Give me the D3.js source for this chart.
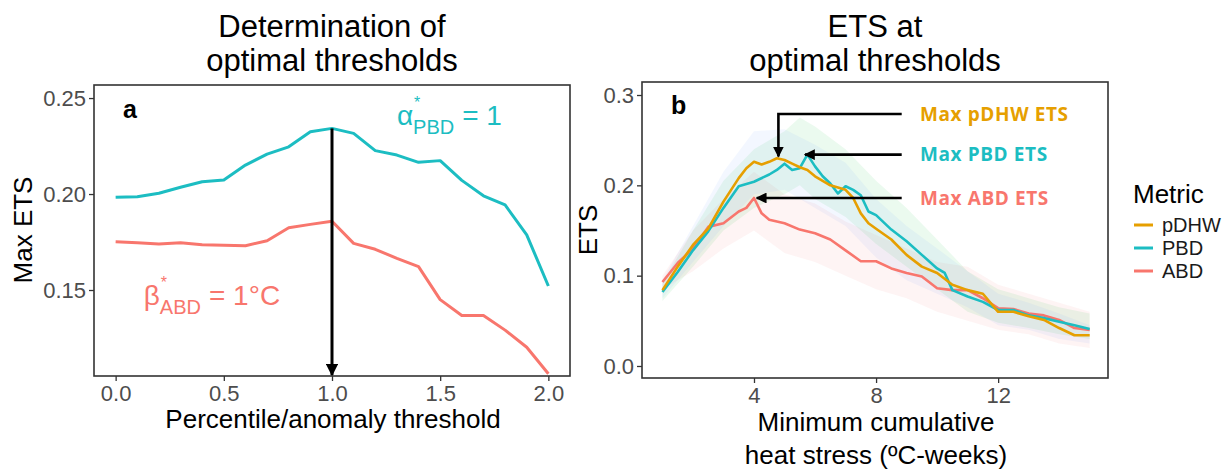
<!DOCTYPE html>
<html>
<head>
<meta charset="utf-8">
<script src="https://cdn.jsdelivr.net/npm/d3@7"></script>
<style>
  body { margin: 0; background: #fff; }
  svg text { font-family: "Liberation Sans", Arial, sans-serif; }
</style>
</head>
<body>
<svg id="chart" width="1230" height="475"></svg>
<script>
// ---- panel a: max ETS by threshold ----
const thresholds = [0, 0.1, 0.2, 0.3, 0.4, 0.5, 0.6, 0.7, 0.8, 0.9, 1.0, 1.1, 1.2, 1.3, 1.4, 1.5, 1.6, 1.7, 1.8, 1.9, 2.0];
const maxEtsPBD = [0.1983, 0.1986, 0.2004, 0.2035, 0.2064, 0.2073, 0.2151, 0.2208, 0.2246, 0.2324, 0.2342, 0.2316, 0.2226, 0.2203, 0.2165, 0.2174, 0.2071, 0.1991, 0.1943, 0.1787, 0.1521];
const maxEtsABD = [0.1752, 0.1746, 0.1740, 0.1746, 0.1736, 0.1733, 0.1731, 0.1757, 0.1824, 0.1842, 0.1858, 0.1743, 0.1712, 0.1665, 0.1622, 0.1450, 0.1367, 0.1367, 0.1291, 0.1202, 0.1064];
const ticksA_x = [0, 0.5, 1, 1.5, 2];
const ticksA_y = [0.15, 0.20, 0.25];

// ---- panel b: ETS vs minimum cumulative heat stress ----
const metrics = ["pDHW", "PBD", "ABD"];
const etsPDHW = [[1,0.084],[1.5,0.110],[2,0.134],[2.5,0.152],[3,0.182],[3.25,0.195],[3.5,0.208],[3.75,0.219],[4,0.226],[4.25,0.223],[4.5,0.226],[4.75,0.230],[5,0.228],[5.25,0.224],[5.5,0.220],[5.75,0.217],[6,0.210],[6.5,0.200],[7,0.195],[7.25,0.186],[7.5,0.169],[7.75,0.158],[8,0.152],[8.5,0.140],[9,0.123],[9.5,0.110],[10,0.103],[10.5,0.090],[11,0.084],[11.5,0.080],[12,0.060],[12.5,0.060],[13,0.055],[13.5,0.051],[14,0.042],[14.5,0.034],[15,0.034]];
const etsPBD = [[1,0.082],[1.5,0.104],[2,0.128],[2.5,0.149],[3,0.175],[3.5,0.199],[4,0.204],[4.5,0.212],[4.75,0.217],[5,0.224],[5.25,0.217],[5.5,0.219],[5.75,0.234],[6,0.221],[6.25,0.210],[6.5,0.202],[6.75,0.191],[7,0.199],[7.25,0.195],[7.5,0.189],[7.75,0.171],[8,0.167],[8.5,0.151],[9,0.138],[9.5,0.123],[10,0.108],[10.25,0.103],[10.5,0.084],[11,0.077],[11.5,0.071],[12,0.062],[12.5,0.062],[13,0.056],[13.5,0.053],[14,0.049],[14.5,0.045],[15,0.041]];
const etsABD = [[1,0.093],[1.5,0.114],[2,0.130],[2.5,0.154],[3,0.158],[3.5,0.171],[3.75,0.175],[4,0.186],[4.25,0.169],[4.5,0.162],[5,0.158],[5.5,0.151],[6,0.147],[6.5,0.140],[7,0.128],[7.5,0.116],[8,0.116],[8.5,0.108],[9,0.103],[9.5,0.099],[10,0.086],[10.5,0.084],[11,0.084],[11.5,0.075],[12,0.064],[12.5,0.063],[13,0.058],[13.5,0.056],[14,0.051],[14.5,0.042],[15,0.040]];
// ribbons: [x, lower, upper]
const bandPDHW = [[1,0.075,0.095],[2,0.115,0.155],[3,0.155,0.215],[4,0.19,0.26],[5,0.195,0.262],[6,0.175,0.245],[7,0.155,0.225],[8,0.12,0.185],[9,0.095,0.155],[10,0.08,0.13],[11,0.065,0.105],[12,0.045,0.08],[13,0.04,0.07],[14,0.03,0.058],[15,0.025,0.045]];
const bandPBD = [[1,0.072,0.092],[2,0.11,0.15],[3,0.15,0.205],[4,0.175,0.24],[5,0.19,0.26],[5.5,0.2,0.275],[6,0.185,0.265],[7,0.165,0.24],[8,0.135,0.205],[9,0.11,0.175],[10,0.085,0.14],[11,0.06,0.105],[12,0.048,0.085],[13,0.042,0.075],[14,0.035,0.065],[15,0.03,0.058]];
const bandABD = [[1,0.085,0.1],[2,0.105,0.15],[3,0.13,0.185],[4,0.15,0.215],[5,0.125,0.19],[6,0.115,0.18],[7,0.1,0.16],[8,0.085,0.145],[9,0.075,0.13],[10,0.06,0.115],[11,0.05,0.11],[12,0.04,0.09],[13,0.035,0.08],[14,0.025,0.07],[15,0.02,0.06]];
const ticksB_x = [4, 8, 12];
const ticksB_y = [0, 0.1, 0.2, 0.3];
// arrow annotations: [label, from x, y, to x, to y]
const maxArrows = [
  ["Max pDHW ETS", 8.84, 0.279, 4.80, 0.232],
  ["Max PBD ETS", 8.84, 0.234, 5.67, 0.234],
  ["Max ABD ETS", 8.84, 0.186, 4.09, 0.186]
];

const colors = {pDHW: "#E69F00", PBD: "#1CBDC2", ABD: "#F8766D"};
const bandColors = {pDHW: "#619CFF", PBD: "#00BA38", ABD: "#F8766D"};
const tickGrey = "#4D4D4D";

const svg = d3.select("#chart");
const defs = svg.append("defs");
defs.append("marker")
    .attr("id", "head")
    .attr("viewBox", "0 0 10 10")
    .attr("refX", 9).attr("refY", 5)
    .attr("markerWidth", 4.2).attr("markerHeight", 4.2)
    .attr("markerUnits", "strokeWidth")
    .attr("orient", "auto")
  .append("path")
    .attr("d", "M0,0 L10,5 L0,10 Z")
    .attr("fill", "#000");

// draws box, ticks, tick labels for a panel
function drawFrame(x, y, xt, yt, xfmt, yfmt) {
    const g = svg.append("g");
    g.append("g")
        .attr("transform", `translate(0,${y.range()[0]})`)
        .call(d3.axisBottom(x).tickValues(xt).tickFormat(xfmt).tickSize(5).tickPadding(4))
        .call(a => a.select(".domain").remove())
        .call(a => a.selectAll("line").attr("stroke", "#333").attr("stroke-width", 1.3))
        .call(a => a.selectAll("text").attr("fill", tickGrey).style("font-size", "22px").style("font-family", "Liberation Sans, Arial, sans-serif"));
    g.append("g")
        .attr("transform", `translate(${x.range()[0]},0)`)
        .call(d3.axisLeft(y).tickValues(yt).tickFormat(yfmt).tickSize(5).tickPadding(3))
        .call(a => a.select(".domain").remove())
        .call(a => a.selectAll("line").attr("stroke", "#333").attr("stroke-width", 1.3))
        .call(a => a.selectAll("text").attr("fill", tickGrey).style("font-size", "22px").style("font-family", "Liberation Sans, Arial, sans-serif"));
    g.append("rect")
        .attr("x", x.range()[0]).attr("y", y.range()[1])
        .attr("width", x.range()[1] - x.range()[0])
        .attr("height", y.range()[0] - y.range()[1])
        .attr("fill", "none").attr("stroke", "#333").attr("stroke-width", 1.6);
}

// math-style label: main glyph, superscript star, subscript, then rest
function mathLabel(x0, y0, glyph, sub, rest, color) {
    const g = svg.append("g").attr("fill", color);
    const t1 = g.append("text").attr("x", x0).attr("y", y0).style("font-size", "28px").text(glyph);
    const w1 = t1.node().getComputedTextLength();
    g.append("text").attr("x", x0 + w1 + 1).attr("y", y0 - 17).style("font-size", "16px").text("*");
    const t2 = g.append("text").attr("x", x0 + w1).attr("y", y0 + 9).style("font-size", "20px").text(sub);
    const w2 = t2.node().getComputedTextLength();
    g.append("text").attr("x", x0 + w1 + w2 + 8).attr("y", y0).style("font-size", "28px").text(rest);
}

// ---------- panel a ----------
const xA = d3.scaleLinear().domain([-0.1, 2.1]).range([94, 570]);
const yA = d3.scaleLinear().domain([0.1052, 0.2568]).range([376, 85]);
drawFrame(xA, yA, ticksA_x, ticksA_y, d3.format(".1f"), d3.format(".2f"));

const lineA = d3.line().x(d => xA(d[0])).y(d => yA(d[1]));
[[maxEtsABD, colors.ABD], [maxEtsPBD, colors.PBD]].forEach(([vals, c]) => {
    svg.append("path")
        .datum(thresholds.map((t, i) => [t, vals[i]]))
        .attr("d", lineA)
        .attr("fill", "none").attr("stroke", c).attr("stroke-width", 3)
        .attr("stroke-linejoin", "round");
});

const peakA = d3.maxIndex(maxEtsPBD);
svg.append("line")
    .attr("x1", xA(thresholds[peakA])).attr("x2", xA(thresholds[peakA]))
    .attr("y1", yA(maxEtsPBD[peakA])).attr("y2", yA.range()[0] - 1)
    .attr("stroke", "#000").attr("stroke-width", 3)
    .attr("marker-end", "url(#head)");

svg.append("text").attr("x", 123).attr("y", 118)
    .style("font-size", "25px").style("font-weight", "bold").text("a");
mathLabel(xA(1.30), yA(0.2360), "α", "PBD", "= 1", colors.PBD);
mathLabel(xA(0.13), yA(0.1421), "β", "ABD", "= 1°C", colors.ABD);

svg.append("text").attr("x", 332).attr("y", 37).attr("text-anchor", "middle")
    .style("font-size", "31px").text("Determination of");
svg.append("text").attr("x", 332).attr("y", 71).attr("text-anchor", "middle")
    .style("font-size", "31px").text("optimal thresholds");
svg.append("text").attr("x", 333).attr("y", 428).attr("text-anchor", "middle")
    .style("font-size", "26px").text("Percentile/anomaly threshold");
svg.append("text").attr("transform", "translate(32,230) rotate(-90)").attr("text-anchor", "middle")
    .style("font-size", "26px").text("Max ETS");

// ---------- panel b ----------
const xB = d3.scaleLinear().domain([0.33, 15.6]).range([642, 1108]);
const yB = d3.scaleLinear().domain([-0.0133, 0.3144]).range([378, 82]);
drawFrame(xB, yB, ticksB_x, ticksB_y, d3.format("d"), d3.format(".1f"));

const bands = {pDHW: bandPDHW, PBD: bandPBD, ABD: bandABD};
const series = {pDHW: etsPDHW, PBD: etsPBD, ABD: etsABD};
const area = d3.area().x(d => xB(d[0])).y0(d => yB(d[1])).y1(d => yB(d[2]));
["ABD", "PBD", "pDHW"].forEach(m => {
    svg.append("path").datum(bands[m]).attr("d", area)
        .attr("fill", bandColors[m]).attr("fill-opacity", 0.08);
});
const lineB = d3.line().x(d => xB(d[0])).y(d => yB(d[1]));
["ABD", "PBD", "pDHW"].forEach(m => {
    svg.append("path").datum(series[m]).attr("d", lineB)
        .attr("fill", "none").attr("stroke", colors[m]).attr("stroke-width", 2.6)
        .attr("stroke-linejoin", "round");
});

const arrowColors = [colors.pDHW, colors.PBD, colors.ABD];
maxArrows.forEach(([label, x1, y1, x2, y2], i) => {
    const pts = [[x1, y1], [x2, y1]];
    if (y2 !== y1) pts.push([x2, y2]);
    svg.append("path")
        .attr("d", d3.line().x(d => xB(d[0])).y(d => yB(d[1]))(pts))
        .attr("fill", "none").attr("stroke", "#000").attr("stroke-width", 2.6)
        .attr("marker-end", "url(#head)");
    svg.append("text")
        .attr("x", xB(9.44)).attr("y", yB(y1)).attr("dy", "0.35em")
        .attr("fill", arrowColors[i])
        .style("font-family", "'Open Sans', sans-serif").style("font-weight", 700)
        .style("font-size", "19px").style("letter-spacing", "0.6px").text(label);
});

svg.append("text").attr("x", 671).attr("y", 114)
    .style("font-size", "25px").style("font-weight", "bold").text("b");

svg.append("text").attr("x", 875).attr("y", 37).attr("text-anchor", "middle")
    .style("font-size", "31px").text("ETS at");
svg.append("text").attr("x", 875).attr("y", 71).attr("text-anchor", "middle")
    .style("font-size", "31px").text("optimal thresholds");
svg.append("text").attr("x", 876).attr("y", 431).attr("text-anchor", "middle")
    .style("font-size", "26px").text("Minimum cumulative");
svg.append("text").attr("x", 876).attr("y", 464).attr("text-anchor", "middle")
    .style("font-size", "26px").text("heat stress (ºC-weeks)");
svg.append("text").attr("transform", "translate(597,230) rotate(-90)").attr("text-anchor", "middle")
    .style("font-size", "26px").text("ETS");

// legend
const legend = svg.append("g");
legend.append("text").attr("x", 1133).attr("y", 203).style("font-size", "26px").text("Metric");
metrics.forEach((m, i) => {
    const yy = 225 + i * 23;
    legend.append("line").attr("x1", 1134).attr("x2", 1153).attr("y1", yy).attr("y2", yy)
        .attr("stroke", colors[m]).attr("stroke-width", 3);
    legend.append("text").attr("x", 1162).attr("y", yy).attr("dy", "0.36em")
        .style("font-size", "20px").attr("fill", "#1a1a1a").text(m);
});
</script>
</body>
</html>
